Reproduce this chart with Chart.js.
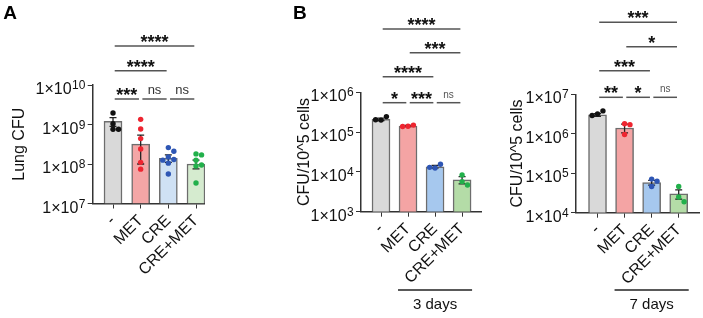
<!DOCTYPE html>
<html>
<head>
<meta charset="utf-8">
<script src="https://cdn.jsdelivr.net/npm/chart.js@4.4.1/dist/chart.umd.min.js"></script>
<style>
  html, body { margin: 0; padding: 0; background: #fff; }
  #wrap { position: relative; width: 703px; height: 318px; }
  #wrap canvas { position: absolute; left: 0; top: 0; }
</style>
</head>
<body>
<div id="wrap">
  <canvas id="panelA" width="703" height="318"></canvas>
  <canvas id="panelB1" width="703" height="318"></canvas>
  <canvas id="panelB2" width="703" height="318"></canvas>
</div>
<script>
var groups = ["-", "MET", "CRE", "CRE+MET"];

// A: lung CFU
var lungMean = [1.2e9, 3.2e8, 1.4e8, 1.0e8];
var lungSem = [3.0e8, 2.2e8, 3.0e7, 2.5e7];
var lungDots = [
  [1.95e9, 1.05e9, 7.6e8, 7.6e8],
  [1.35e9, 7.7e8, 4.4e8, 2.4e8, 1.1e8, 7.4e7],
  [2.6e8, 2.1e8, 1.5e8, 1.3e8, 1.25e8, 1.05e8, 5.6e7],
  [1.8e8, 1.7e8, 1.25e8, 9.4e7, 8.9e7, 3.3e7]
];
var lungTicks = [1e7, 1e8, 1e9, 1e10];
var lungStats = [[0, 1, "***", 0], [1, 2, "ns", 0], [2, 3, "ns", 0], [0, 2, "****", 1], [0, 3, "****", 2]];

// B: CFU per 10^5 cells, 3 days
var day3Mean = [2.1e5, 1.42e5, 1.35e4, 6.3e3];
var day3Sem = [1.5e4, 5e3, 1.0e3, 1.3e3];
var day3Dots = [
  [2.0e5, 2.45e5, 2.05e5],
  [1.4e5, 1.5e5, 1.38e5],
  [1.25e4, 1.55e4, 1.3e4],
  [8.4e3, 5.7e3, 4.7e3]
];
var day3Ticks = [1e3, 1e4, 1e5, 1e6];
var day3Stats = [[0, 1, "*", 0], [1, 2, "***", 0], [2, 3, "ns", 0], [0, 2, "****", 1], [1, 3, "***", 2], [0, 3, "****", 3]];

// B: CFU per 10^5 cells, 7 days
var day7Mean = [3.0e6, 1.4e6, 5.8e4, 3.0e4];
var day7Sem = [2.5e5, 3.5e5, 8e3, 8e3];
var day7Dots = [
  [3.2e6, 3.8e6, 2.9e6],
  [1.8e6, 1.7e6, 9.6e5],
  [7.1e4, 6.3e4, 4.6e4],
  [4.6e4, 2.5e4, 1.9e4]
];
var day7Ticks = [1e4, 1e5, 1e6, 1e7];
var day7Stats = [[0, 1, "**", 0], [1, 2, "*", 0], [2, 3, "ns", 0], [0, 2, "***", 1], [1, 3, "*", 2], [0, 3, "***", 3]];

var FONT = 'Arial, "Liberation Sans", sans-serif';
var dotColors = ["#111111", "#ee2530", "#2e56b4", "#22b04b"];

// spread overlapping dots sideways (rough beeswarm, px based)
function swarm(vals) {
  var placed = [];
  return vals.map(function (v) {
    var ly = Math.log10(v) * 39.5;
    var off = 0;
    for (var k = 0; k < 12; k++) {
      off = (k % 2 ? 1 : -1) * Math.ceil(k / 2) * 5.5;
      var free = placed.every(function (q) {
        return Math.hypot(q[0] - off, q[1] - ly) >= 5.5;
      });
      if (free) break;
    }
    placed.push([off, ly]);
    return off / 27.5;
  });
}

var decor = {
  id: "decor",
  afterDatasetDraw: function (chart, args, p) {
    if (args.index !== 0) return;
    var ctx = chart.ctx, xs = chart.scales.x, ys = chart.scales.y;
    ctx.save();
    ctx.strokeStyle = "#222";
    ctx.lineWidth = 1.3;
    p.mean.forEach(function (m, i) {
      var x = xs.getPixelForValue(i);
      var hi = ys.getPixelForValue(m + p.sem[i]);
      var lo = ys.getPixelForValue(Math.max(m - p.sem[i], ys.min));
      ctx.beginPath();
      ctx.moveTo(x, lo); ctx.lineTo(x, hi);
      ctx.moveTo(x - 3.5, hi); ctx.lineTo(x + 3.5, hi);
      ctx.moveTo(x - 3.5, lo); ctx.lineTo(x + 3.5, lo);
      ctx.stroke();
    });
    ctx.restore();
  },
  afterDraw: function (chart, args, p) {
    var ctx = chart.ctx, xs = chart.scales.x, ys = chart.scales.y;
    ctx.save();
    // y tick labels 1x10^n
    ys.ticks.forEach(function (t) {
      var y = ys.getPixelForValue(t.value);
      var exp = String(Math.round(Math.log10(t.value)));
      ctx.fillStyle = "#111";
      ctx.textBaseline = "alphabetic";
      ctx.textAlign = "left";
      ctx.font = "16px " + FONT;
      var w1 = ctx.measureText("1×10").width;
      ctx.font = "12px " + FONT;
      var w2 = ctx.measureText(exp).width;
      var x0 = chart.chartArea.left - 7.7 - w2 - w1;
      ctx.font = "16px " + FONT;
      ctx.fillText("1×10", x0, y + 9);
      ctx.font = "12px " + FONT;
      ctx.fillText(exp, x0 + w1 + 0.3, y + 4);
    });
    // significance brackets
    p.stats.forEach(function (s) {
      var x1 = xs.getPixelForValue(s[0]) + 1.7;
      var x2 = xs.getPixelForValue(s[1]) - 1.7;
      var y = p.levels[s[3]];
      ctx.strokeStyle = "#555";
      ctx.lineWidth = 1.5;
      ctx.beginPath();
      ctx.moveTo(x1, y); ctx.lineTo(x2, y);
      ctx.stroke();
      ctx.textAlign = "center";
      ctx.textBaseline = "alphabetic";
      if (s[2] === "ns") {
        ctx.fillStyle = p.nsColor;
        ctx.font = p.nsSize + "px " + FONT;
        ctx.fillText("ns", (x1 + x2) / 2, y - 5);
      } else {
        ctx.fillStyle = "#111";
        ctx.font = "bold 18px " + FONT;
        ctx.fillText(s[2], (x1 + x2) / 2, y + 2);
      }
    });
    // time label under the groups
    if (p.days) {
      var a = xs.getPixelForValue(0.63), b = xs.getPixelForValue(3.37);
      ctx.strokeStyle = "#222";
      ctx.lineWidth = 1.5;
      ctx.beginPath();
      ctx.moveTo(a, 290); ctx.lineTo(b, 290);
      ctx.stroke();
      ctx.fillStyle = "#111";
      ctx.font = "15px " + FONT;
      ctx.textAlign = "center";
      ctx.fillText(p.days, (a + b) / 2, 309);
    }
    if (p.letter) {
      ctx.fillStyle = "#000";
      ctx.font = "bold 19px " + FONT;
      ctx.textAlign = "left";
      ctx.fillText(p.letter, p.letterX, 18.5);
    }
    ctx.restore();
  }
};

function makePanel(id, p) {
  var padLeft = p.titleX - 9.6;
  var xHeight = 100;
  var datasets = [{
    type: "bar",
    data: p.mean.map(function (v, i) { return { x: i, y: v }; }),
    backgroundColor: p.fills,
    borderColor: "#6d6d6d",
    borderWidth: 1.5,
    barThickness: 18,
    order: 2
  }];
  p.dots.forEach(function (vals, i) {
    var offs = swarm(vals);
    datasets.push({
      type: "scatter",
      data: vals.map(function (v, k) { return { x: i + offs[k], y: v }; }),
      backgroundColor: dotColors[i],
      borderWidth: 0,
      pointRadius: 2.7,
      order: 1
    });
  });

  return new Chart(document.getElementById(id), {
    type: "bar",
    data: { datasets: datasets },
    options: {
      responsive: false,
      animation: false,
      devicePixelRatio: 1,
      events: [],
      layout: { padding: { left: padLeft, right: 703 - p.right, top: p.top, bottom: 318 - p.bottom - xHeight } },
      plugins: { legend: { display: false }, tooltip: { enabled: false }, decor: p },
      scales: {
        x: {
          type: "linear",
          min: p.xMin,
          max: p.xMax,
          bounds: "data",
          offset: false,
          grid: { drawOnChartArea: false, drawTicks: true, tickLength: 5, color: "#333", offset: false },
          border: { color: "#333", width: 1.5 },
          afterBuildTicks: function (s) { s.ticks = groups.map(function (g, i) { return { value: i }; }); },
          afterFit: function (s) { s.height = xHeight; },
          ticks: {
            autoSkip: false, minRotation: 45, maxRotation: 45, padding: 3, color: "#111",
            font: { size: 16, family: FONT },
            callback: function (v) { return groups[v]; }
          }
        },
        y: {
          type: "logarithmic",
          min: p.ticks[0],
          max: p.ticks[p.ticks.length - 1],
          afterBuildTicks: function (s) { s.ticks = p.ticks.map(function (v) { return { value: v }; }); },
          afterFit: function (s) { s.width = p.left - padLeft; },
          grid: { drawOnChartArea: false, drawTicks: true, tickLength: 5, color: "#333" },
          border: { color: "#333", width: 1.5 },
          ticks: { callback: function () { return ""; } },
          title: { display: true, text: p.title, color: "#111", padding: 0, font: { size: 16, family: FONT } }
        }
      }
    },
    plugins: [decor]
  });
}

makePanel("panelA", {
  mean: lungMean, sem: lungSem, dots: lungDots, ticks: lungTicks, stats: lungStats,
  fills: ["#d9d9d9", "#f4a6a6", "#cfe1f4", "#d5ebcf"],
  title: "Lung CFU", titleX: 20,
  left: 92.7, right: 205, top: 85, bottom: 203.5, xMin: -0.734, xMax: 3.325,
  levels: [99, 70.7, 46], nsColor: "#333", nsSize: 13,
  letter: "A", letterX: 3.3, days: null
});

makePanel("panelB1", {
  mean: day3Mean, sem: day3Sem, dots: day3Dots, ticks: day3Ticks, stats: day3Stats,
  fills: ["#d9d9d9", "#f4a4a4", "#a6c8ee", "#b4dca7"],
  title: "CFU/10^5 cells", titleX: 304.5,
  left: 361, right: 481, top: 92.3, bottom: 211.7, xMin: -0.74, xMax: 3.7,
  levels: [102.7, 76.7, 52.7, 29], nsColor: "#555", nsSize: 10,
  letter: "B", letterX: 293, days: "3 days"
});

makePanel("panelB2", {
  mean: day7Mean, sem: day7Sem, dots: day7Dots, ticks: day7Ticks, stats: day7Stats,
  fills: ["#d9d9d9", "#f4a4a4", "#a6c8ee", "#b4dca7"],
  title: "CFU/10^5 cells", titleX: 517.5,
  left: 576, right: 701.7, top: 94.3, bottom: 212.7, xMin: -0.795, xMax: 3.75,
  levels: [97.3, 70.7, 46.7, 22.3], nsColor: "#555", nsSize: 10,
  letter: null, days: "7 days"
});
</script>
</body>
</html>
